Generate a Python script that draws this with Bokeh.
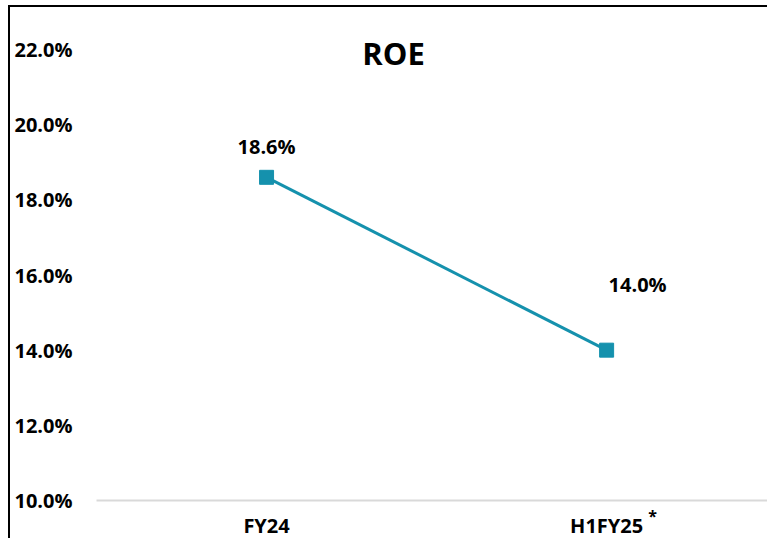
from bokeh.plotting import figure
from bokeh.models import Range1d, FixedTicker, Label, ColumnDataSource
from bokeh.core.properties import value
from bokeh.embed import file_html
from bokeh.resources import INLINE

# ---- data ----
categories = ["FY24", "H1FY25"]
roe = [18.6, 14.0]
roe_labels = ["18.6%", "14.0%"]
y_ticks = [10, 12, 14, 16, 18, 20, 22]
title_text = "ROE"
footnote_mark = "*"

FONT = "Open Sans"
TEAL = "#1591ad"

xs = list(range(len(categories)))
src = ColumnDataSource(dict(x=xs, y=roe, lab=roe_labels,
                            xo=[0, 31], yo=[-31, -66]))

p = figure(width=759, height=533, output_backend="svg", toolbar_location=None,
           x_range=Range1d(-0.753, 1.479), y_range=Range1d(8.935, 23.119),
           min_border=0)
p.outline_line_color = None
p.background_fill_color = "white"
p.border_fill_color = "white"
# chart border: top and left edges only (the right/bottom are cut off in the original)
p.styles = {"margin-left": "8px", "margin-top": "5px",
            "border-left": "2px solid black", "border-top": "2px solid black"}

p.line("x", "y", source=src, line_color=TEAL, line_width=3)
p.scatter("x", "y", source=src, marker="square", size=14,
          fill_color=TEAL, line_color=TEAL)
p.text("x", "y", text="lab", source=src, x_offset="xo", y_offset="yo",
       text_font=value(FONT), text_font_style="bold", text_font_size="20px",
       text_align="center", text_baseline="middle", text_color="black")

# axes (fixed inside the frame so the whole canvas is the plotting area)
p.xgrid.visible = False
p.ygrid.visible = False
xa = p.xaxis[0]
xa.fixed_location = y_ticks[0]
xa.bounds = (-0.5, 1.479)
xa.ticker = FixedTicker(ticks=xs)
xa.major_label_overrides = {i: c for i, c in zip(xs, categories)}
xa.axis_line_color = "#d9d9d9"
xa.axis_line_width = 2
xa.major_tick_line_color = None
xa.minor_tick_line_color = None
xa.major_tick_out = 0
xa.major_tick_in = 0
xa.major_label_standoff = 12
xa.major_label_text_font = FONT
xa.major_label_text_font_style = "bold"
xa.major_label_text_font_size = "20px"
xa.major_label_text_color = "black"

ya = p.yaxis[0]
ya.fixed_location = -0.5
ya.ticker = FixedTicker(ticks=y_ticks)
ya.major_label_overrides = {t: f"{t:.1f}%" for t in y_ticks}
ya.axis_line_color = None
ya.major_tick_line_color = None
ya.minor_tick_line_color = None
ya.major_tick_out = 0
ya.major_tick_in = 0
ya.major_label_standoff = 24
ya.major_label_text_font = FONT
ya.major_label_text_font_style = "bold"
ya.major_label_text_font_size = "20px"
ya.major_label_text_color = "black"

p.add_layout(Label(x=383, y=488, x_units="screen", y_units="screen",
                   text=title_text, text_align="center", text_baseline="middle",
                   text_font=FONT, text_font_style="bold", text_font_size="31px",
                   text_color="black"))
p.add_layout(Label(x=642, y=25, x_units="screen", y_units="screen",
                   text=footnote_mark, text_align="center", text_baseline="middle",
                   text_font=FONT, text_font_style="bold", text_font_size="16px",
                   text_color="black"))

open("out.html", "w").write(file_html(p, INLINE))
